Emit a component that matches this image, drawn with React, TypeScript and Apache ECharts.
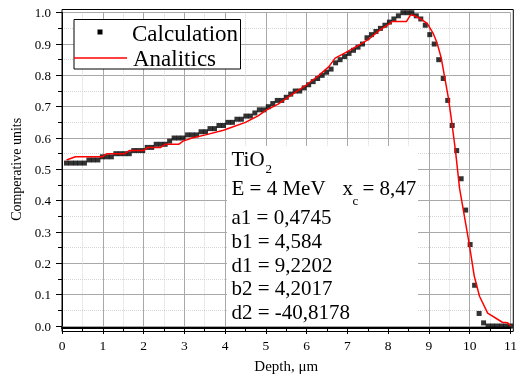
import React, { useEffect, useRef } from "react";
import * as echarts from "echarts";

const calcX = [0.11,0.22,0.33,0.44,0.55,0.66,0.77,0.88,0.99,1.1,1.21,1.32,1.43,1.54,1.65,1.76,1.87,1.98,2.09,2.2,2.31,2.42,2.53,2.64,2.75,2.86,2.97,3.08,3.19,3.3,3.41,3.52,3.63,3.74,3.85,3.96,4.07,4.18,4.29,4.4,4.51,4.62,4.73,4.84,4.95,5.06,5.17,5.28,5.39,5.5,5.61,5.72,5.83,5.94,6.05,6.16,6.27,6.38,6.49,6.6,6.71,6.82,6.93,7.04,7.15,7.26,7.37,7.48,7.59,7.7,7.81,7.92,8.03,8.14,8.25,8.36,8.47,8.58,8.69,8.8,8.91,9.02,9.13,9.24,9.35,9.46,9.57,9.68,9.79,9.9,10.01,10.12,10.23,10.34,10.45,10.56,10.67,10.78,10.89,11.0];
const calcY = [0.52,0.52,0.52,0.52,0.52,0.53,0.53,0.53,0.54,0.54,0.54,0.55,0.55,0.55,0.55,0.56,0.56,0.56,0.57,0.57,0.58,0.58,0.58,0.59,0.60,0.60,0.60,0.61,0.61,0.61,0.62,0.62,0.63,0.63,0.64,0.64,0.65,0.65,0.66,0.66,0.67,0.67,0.68,0.69,0.69,0.70,0.71,0.72,0.72,0.73,0.74,0.75,0.75,0.76,0.77,0.78,0.79,0.80,0.81,0.82,0.84,0.85,0.86,0.87,0.88,0.89,0.90,0.92,0.93,0.94,0.95,0.96,0.97,0.98,0.99,1.0,1.0,1.0,0.99,0.98,0.96,0.93,0.90,0.85,0.79,0.72,0.64,0.56,0.47,0.37,0.26,0.13,0.04,0.01,0,0,0,0,0,0];

const analX = [0.11,0.33,0.99,1.1,1.54,1.65,2.0,2.1,2.42,2.53,2.86,2.97,3.19,3.52,3.96,4.18,4.5,4.8,5.0,5.3,5.6,6.0,6.3,6.54,6.7,7.0,7.5,7.8,8.0,8.1,8.45,8.55,8.65,8.8,8.96,9.1,9.2,9.3,9.38,9.48,9.55,9.65,9.75,9.87,9.99,10.11,10.24,10.44,10.8,10.93,11.0];
const analY = [0.53,0.54,0.54,0.55,0.55,0.56,0.56,0.57,0.57,0.58,0.58,0.59,0.60,0.61,0.625,0.635,0.65,0.67,0.688,0.708,0.735,0.77,0.80,0.827,0.855,0.876,0.913,0.945,0.962,0.972,0.972,0.993,0.99,0.98,0.965,0.935,0.903,0.856,0.798,0.725,0.66,0.56,0.44,0.35,0.26,0.16,0.095,0.041,0.012,0.01,0.0];

const xTicks = [0, 11, 1];
const yTicks = [0, 1, 0.1];
const infoLines = ["a1 = 0,4745", "b1 = 4,584", "d1 = 9,2202", "b2 = 4,2017", "d2 = -40,8178"];
const infoMid = [216.5, 240.5, 264.8, 288.2, 311.5];

const SERIF = "'Liberation Serif', 'Times New Roman', serif";

export default function App() {
  const ref = useRef<HTMLDivElement>(null);
  useEffect(() => {
    if (!ref.current) return;
    const chart = echarts.init(ref.current, null, { renderer: "svg" });
    const major = { show: true, lineStyle: { color: "#a8a8a8", width: 1 } };
    const minor = { show: true, lineStyle: { color: "#d4d4d4", width: 1, type: [1, 1] as any } };
    const txt = (text: string, x: number, y: number, size: number, extra: any = {}) => ({
      type: "text", x, y, z: 20,
      style: { text, fontFamily: SERIF, fontSize: size, fill: "#000", verticalAlign: "middle", ...extra },
    });
    chart.setOption({
      animation: false,
      grid: { left: 62, right: 7, top: 12.7, bottom: 48.3 },
      xAxis: {
        type: "value", min: xTicks[0], max: xTicks[1], interval: xTicks[2], offset: 2,
        name: "Depth, μm", nameLocation: "middle", nameGap: 30,
        nameTextStyle: { fontFamily: SERIF, fontSize: 15, color: "#000" },
        axisLine: { show: true, onZero: false, lineStyle: { color: "#000", width: 2 } },
        axisTick: { show: true, length: 6, lineStyle: { color: "#000" } },
        minorTick: { show: true, splitNumber: 2, length: 3, lineStyle: { color: "#000" } },
        axisLabel: { fontFamily: SERIF, fontSize: 13.5, color: "#000", margin: 10 },
        splitLine: major, minorSplitLine: minor,
      },
      yAxis: {
        type: "value", min: yTicks[0], max: yTicks[1], interval: yTicks[2],
        name: "Comperative units", nameLocation: "middle", nameGap: 28,
        nameTextStyle: { fontFamily: SERIF, fontSize: 14, color: "#000" },
        axisLine: { show: true, lineStyle: { color: "#000", width: 1 } },
        axisTick: { show: true, length: 6, lineStyle: { color: "#000" } },
        minorTick: { show: true, splitNumber: 2, length: 4, lineStyle: { color: "#000" } },
        axisLabel: { fontFamily: SERIF, fontSize: 13, color: "#000", margin: 11, formatter: (v: number) => v.toFixed(1) },
        splitLine: major, minorSplitLine: minor,
      },
      series: [
        {
          name: "Calculation", type: "scatter", symbol: "rect", symbolSize: 5, z: 5,
          itemStyle: { color: "#000" },
          data: calcX.map((x, i) => [x, calcY[i]]),
        },
        {
          name: "Analitics", type: "line", showSymbol: false, z: 6,
          lineStyle: { color: "#ff0000", width: 1.5 },
          data: analX.map((x, i) => [x, analY[i]]),
        },
      ],
      graphic: [
        { type: "rect", z: 1, shape: { x: 227, y: 146, width: 191, height: 180 }, style: { fill: "#fff" } },
        { type: "rect", z: 30, shape: { x: 62, y: 9.5, width: 451.3, height: 322 }, style: { fill: "none", stroke: "#000", lineWidth: 1 } },
        { type: "rect", z: 15, shape: { x: 74, y: 19.5, width: 166.5, height: 49.5 }, style: { fill: "#fff", stroke: "#000", lineWidth: 1 } },
        { type: "rect", z: 20, shape: { x: 97.5, y: 29.5, width: 5, height: 5 }, style: { fill: "#000" } },
        { type: "line", z: 20, shape: { x1: 74, y1: 58, x2: 127, y2: 58 }, style: { stroke: "#ff0000", lineWidth: 1.5 } },
        txt("Calculation", 132, 33, 23),
        txt("Analitics", 133, 58, 23),
        txt("TiO", 231.5, 159, 21),
        txt("2", 265.5, 168.5, 13),
        txt("E = 4 MeV", 231.5, 188, 21),
        txt("x", 342.5, 188, 21),
        txt("c", 352.5, 200.5, 13),
        txt("= 8,47", 362.5, 188, 21),
        ...infoLines.map((t, i) => txt(t, 231.5, infoMid[i], 21)),
      ],
    });
    return () => chart.dispose();
  }, []);
  return <div ref={ref} style={{ position: "fixed", left: 0, top: 0, width: 520, height: 378 }} />;
}
